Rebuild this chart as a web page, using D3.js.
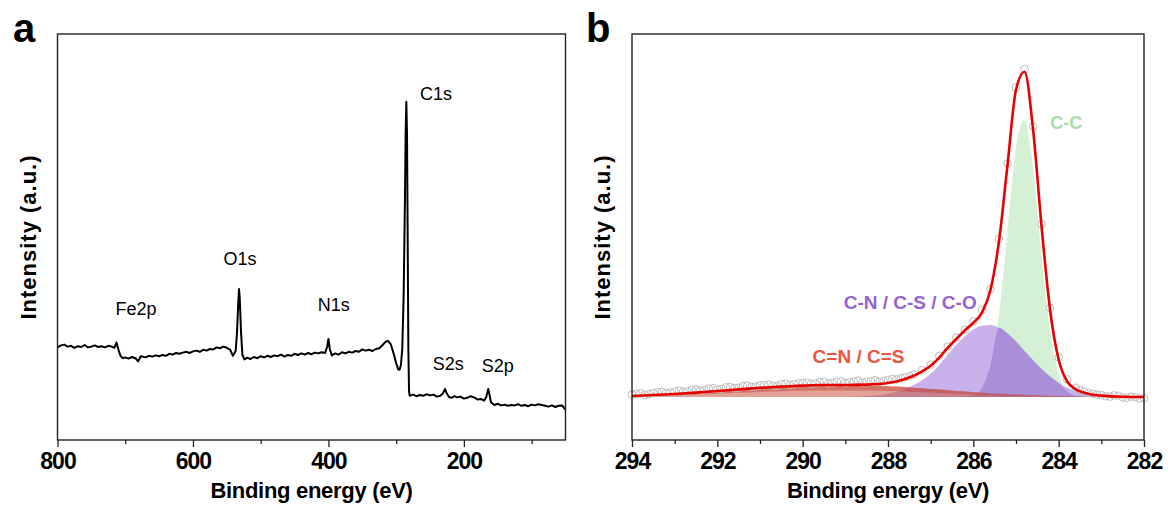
<!DOCTYPE html>
<html>
<head>
<meta charset="utf-8">
<title>XPS survey and C1s spectrum</title>
<style>
  body { margin: 0; background: #fff; }
  svg text { font-family: "Liberation Sans", Arial, sans-serif; }
</style>
</head>
<body>
<svg id="chart" width="1168" height="510"></svg>

<script src="https://cdn.jsdelivr.net/npm/d3@7/dist/d3.min.js"></script>
<script>
  // ---- panel a : survey scan, [binding energy (eV), intensity (a.u.)]
  const surveyScan = [
    [800, 22.4], [795, 22.9], [790, 23.1], [785, 22.6], [780, 22.8], [775, 22.3],
    [770, 22.7], [765, 22.5], [760, 23.0], [755, 22.4], [750, 22.6], [745, 22.9],
    [740, 22.5], [735, 22.7], [730, 22.4], [725, 22.8], [720, 22.6], [716, 22.3],
    [713, 23.6], [710, 21.8], [707, 20.3], [704, 19.7], [700, 19.9], [695, 19.6],
    [690, 20.0], [685, 19.7], [681, 18.9], [677, 20.2], [670, 19.9], [665, 20.3],
    [660, 20.1], [655, 20.4], [650, 20.2], [645, 20.5], [640, 20.3], [635, 20.8],
    [630, 20.6], [625, 21.0], [620, 20.8], [615, 21.1], [610, 21.3], [605, 21.0],
    [600, 21.4], [595, 21.6], [590, 21.3], [585, 21.8], [580, 21.6], [575, 22.0],
    [570, 21.9], [565, 22.4], [560, 22.2], [555, 22.6], [550, 22.3], [545, 21.8],
    [541, 20.3], [537, 21.5], [535, 26.0], [533, 34.0], [532, 37.0], [531, 35.0],
    [529, 26.0], [527, 20.5], [524, 19.4], [520, 19.8], [515, 19.5], [510, 20.0],
    [505, 19.7], [500, 20.2], [495, 19.9], [490, 20.3], [485, 20.0], [480, 20.4],
    [475, 20.2], [470, 20.6], [465, 20.1], [460, 20.5], [455, 20.3], [450, 20.8],
    [445, 20.5], [440, 20.9], [435, 20.6], [430, 21.0], [425, 20.7], [420, 21.1],
    [415, 20.9], [410, 21.2], [405, 21.0], [402, 22.5], [400, 24.5], [398, 22.0],
    [395, 20.4], [390, 20.9], [385, 20.6], [380, 21.2], [375, 20.9], [370, 21.3],
    [365, 21.1], [360, 21.5], [355, 21.3], [350, 21.9], [345, 21.6], [340, 21.8],
    [335, 21.5], [330, 22.0], [325, 22.2], [320, 23.0], [315, 23.9], [312, 24.0],
    [308, 23.2], [304, 21.0], [300, 18.5], [297, 16.9], [295, 16.8], [293, 18.0],
    [291, 22.0], [289, 35.0], [287, 60.0], [286, 76.0], [285, 83.8], [284, 76.0],
    [283, 50.0], [282, 22.0], [281, 11.5], [280, 10.3], [275, 10.6], [270, 10.2],
    [265, 10.5], [260, 10.3], [255, 10.7], [250, 10.4], [245, 10.6], [240, 10.1],
    [235, 10.3], [231, 10.9], [228, 12.0], [225, 10.8], [222, 10.0], [218, 9.8],
    [214, 10.2], [210, 9.9], [205, 10.1], [200, 9.6], [195, 9.8], [190, 10.2],
    [185, 9.9], [180, 9.4], [175, 9.5], [170, 9.1], [167, 10.0], [164, 12.0],
    [162, 10.4], [160, 8.7], [155, 8.0], [150, 8.3], [145, 7.9], [140, 8.1],
    [135, 7.8], [130, 8.0], [125, 7.9], [120, 8.2], [115, 7.8], [110, 8.0],
    [105, 7.7], [100, 8.1], [95, 7.9], [90, 8.2], [85, 8.0], [80, 7.8],
    [75, 7.6], [70, 7.9], [65, 7.5], [60, 7.8], [55, 7.9], [52, 7.2], [50, 6.8]
  ];
  const surveyLabels = ['Fe2p', 'O1s', 'N1s', 'C1s', 'S2s', 'S2p'];
  const surveyLabelAt = [[684, 30.5], [530.5, 43], [392, 31.5], [241, 84.25], [223, 16.75], [150, 16.25]];
  const surveyMajorTicks = [800, 600, 400, 200];
  const surveyMinorTicks = [700, 500, 300, 100];

  // ---- panel b : C1s high resolution, fitted components (above background)
  const hrEnergy = [294, 293.5, 293, 292.5, 292, 291.5, 291, 290.5, 290, 289.5, 289, 288.5, 288,
    287.8, 287.6, 287.4, 287.2, 287.0, 286.8, 286.6, 286.4, 286.2, 286.0, 285.8, 285.6, 285.4,
    285.2, 285.0, 284.8, 284.6, 284.4, 284.2, 284.0, 283.8, 283.6, 283.4, 283.2, 283.0, 282.5, 282];
  const fitCC = [0, 0, 0, 0, 0, 0, 0, 0, 0, 0, 0, 0, 0,
    0, 0, 0, 0, 0, 0, 0, 0, 0.07, 0.46, 2.2, 7.8, 20.7,
    41.3, 62.3, 69.3, 57.3, 35.2, 16.3, 5.6, 1.4, 0.27, 0.05, 0, 0, 0, 0];
  const fitCN = [0, 0, 0, 0, 0, 0, 0, 0, 0, 0, 0, 0.2, 0.8,
    1.3, 2.0, 3.0, 4.2, 5.8, 8.0, 10.6, 13.0, 15.2, 16.9, 17.8, 18.0, 17.3,
    15.9, 13.9, 11.5, 9.2, 7.0, 5.1, 3.5, 2.3, 1.5, 0.9, 0.5, 0.3, 0.05, 0];
  const fitCdN = [0.25, 0.5, 0.75, 1.1, 1.5, 1.9, 2.3, 2.6, 2.85, 3.0, 3.0, 2.9, 2.7,
    2.6, 2.5, 2.3, 2.2, 2.0, 1.85, 1.7, 1.5, 1.35, 1.2, 1.05, 0.9, 0.8,
    0.7, 0.6, 0.5, 0.42, 0.35, 0.28, 0.22, 0.17, 0.13, 0.1, 0.07, 0.05, 0.02, 0];
  const fitBackground = 10;
  const hrRaw = [
    [294.0, 10.6], [293.8, 10.9], [293.6, 10.7], [293.4, 11.2], [293.2, 11.0], [293.0, 11.4],
    [292.8, 11.3], [292.6, 11.8], [292.4, 11.6], [292.2, 12.1], [292.0, 11.9], [291.8, 12.4],
    [291.6, 12.2], [291.4, 12.7], [291.2, 12.5], [291.0, 12.9], [290.8, 13.1], [290.6, 12.8],
    [290.4, 13.3], [290.2, 13.2], [290.0, 13.5], [289.8, 13.3], [289.6, 13.7], [289.4, 13.4],
    [289.2, 13.8], [289.0, 13.5], [288.8, 13.9], [288.6, 13.6], [288.4, 14.0], [288.2, 13.8],
    [288.0, 14.3], [287.8, 14.4], [287.6, 14.9], [287.4, 15.6], [287.2, 16.7], [287.0, 18.1],
    [286.8, 20.3], [286.6, 22.6], [286.4, 24.9], [286.2, 26.8], [286.0, 28.9], [285.8, 31.8],
    [285.6, 37.0], [285.4, 49.5], [285.2, 68.4], [285.0, 87.4], [284.8, 92.0], [284.6, 77.6],
    [284.4, 53.2], [284.2, 32.3], [284.0, 19.9], [283.8, 14.4], [283.6, 12.3], [283.4, 11.4],
    [283.2, 10.8], [283.0, 10.5], [282.8, 10.1], [282.6, 10.3], [282.4, 9.8], [282.2, 10.0],
    [282.0, 9.7],
    [293.9, 10.8], [293.7, 10.5], [293.5, 11.0], [293.3, 11.3], [293.1, 11.1], [292.9, 11.6],
    [292.7, 11.4], [292.5, 11.9], [292.3, 11.7], [292.1, 12.2], [291.9, 12.0], [291.7, 12.5],
    [291.5, 12.3], [291.3, 12.8], [291.1, 12.6], [290.9, 13.0], [290.7, 12.8], [290.5, 13.2],
    [290.3, 13.0], [290.1, 13.4], [289.9, 13.6], [289.7, 13.4], [289.5, 13.8], [289.3, 13.5],
    [289.1, 13.9], [288.9, 13.7], [288.7, 14.1], [288.5, 13.8], [288.3, 14.2], [288.1, 14.0],
    [287.9, 14.5], [287.7, 14.7], [287.5, 15.2], [283.5, 11.7], [283.3, 11.0], [283.1, 10.6],
    [282.9, 10.2], [282.7, 10.4], [282.5, 9.9], [282.3, 10.1], [282.1, 9.6]
  ];
  const hrLabels = ['C-C', 'C-N / C-S / C-O', 'C=N / C=S'];
  const hrLabelAt = [[283.82, 77], [287.48, 32], [288.69, 18.5]];
  const hrMajorTicks = [294, 292, 290, 288, 286, 284, 282];
  const hrMinorTicks = [293, 291, 289, 287, 285, 283];

  const svg = d3.select('#chart');
  const plotTop = 34, plotBottom = 440;

  // shared intensity scale (arbitrary units, no ticks drawn)
  const y = d3.scaleLinear().domain([-0.75, 100.75]).range([plotBottom, plotTop]);

  function drawFrame(g, x, major, minor, letter, letterX) {
    const [x0, x1] = x.range();
    g.append('g')
      .attr('transform', `translate(0,${plotBottom})`)
      .call(d3.axisBottom(x).tickValues(minor).tickSize(4).tickFormat(''))
      .call(a => a.select('.domain').remove())
      .call(a => a.selectAll('line').attr('stroke', '#222').attr('stroke-width', 1.3));
    g.append('g')
      .attr('transform', `translate(0,${plotBottom})`)
      .call(d3.axisBottom(x).tickValues(major).tickSize(7).tickPadding(6))
      .call(a => a.select('.domain').remove())
      .call(a => a.selectAll('line').attr('stroke', '#222').attr('stroke-width', 1.3))
      .call(a => a.selectAll('text')
        .attr('fill', '#000')
        .style('font-size', '23px')
        .style('font-weight', 'bold')
        .style('letter-spacing', '-1px')
        .style('font-family', '"Liberation Sans", Arial, sans-serif'));

    g.append('rect')
      .attr('x', x0).attr('y', plotTop)
      .attr('width', x1 - x0).attr('height', plotBottom - plotTop)
      .attr('fill', 'none').attr('stroke', '#222').attr('stroke-width', 1.4);

    g.append('text')
      .attr('x', (x0 + x1) / 2).attr('y', 498)
      .attr('text-anchor', 'middle')
      .style('font-size', '22px').style('font-weight', 'bold')
      .style('letter-spacing', '-0.3px')
      .text('Binding energy (eV)');

    g.append('text')
      .attr('transform', `translate(${x0 - 22},${(plotTop + plotBottom) / 2}) rotate(-90)`)
      .attr('text-anchor', 'middle')
      .style('font-size', '22px').style('font-weight', 'bold')
      .style('letter-spacing', '1px')
      .text('Intensity (a.u.)');

    g.append('text')
      .attr('x', letterX).attr('y', 42)
      .style('font-size', '40px').style('font-weight', 'bold')
      .text(letter);
  }

  // ================= panel a =================
  const xa = d3.scaleLinear().domain([800, 50]).range([57.5, 565.5]);
  const ga = svg.append('g');

  ga.append('path')
    .datum(surveyScan)
    .attr('fill', 'none')
    .attr('stroke', '#000')
    .attr('stroke-width', 2)
    .attr('stroke-linejoin', 'round')
    .attr('d', d3.line().x(d => xa(d[0])).y(d => y(d[1])));

  ga.selectAll('.peak-label')
    .data(surveyLabels)
    .enter()
    .append('text')
    .attr('class', 'peak-label')
    .attr('x', (d, i) => xa(surveyLabelAt[i][0]))
    .attr('y', (d, i) => y(surveyLabelAt[i][1]))
    .attr('text-anchor', 'middle')
    .style('font-size', '18px')
    .text(d => d);

  drawFrame(ga, xa, surveyMajorTicks, surveyMinorTicks, 'a', 13);

  // ================= panel b =================
  const xb = d3.scaleLinear().domain([294, 282]).range([632, 1144]);
  const gb = svg.append('g');

  const rows = hrEnergy.map((e, i) => ({
    e: e, cc: fitCC[i], cn: fitCN[i], cdn: fitCdN[i],
    sum: fitBackground + fitCC[i] + fitCN[i] + fitCdN[i]
  }));

  const area = key => d3.area()
    .curve(d3.curveMonotoneX)
    .x(d => xb(d.e))
    .y0(y(fitBackground))
    .y1(d => y(fitBackground + key(d)));

  gb.append('path').datum(rows).attr('fill', '#d5f1d5').attr('d', area(d => d.cc));
  gb.append('path').datum(rows).attr('fill', '#c8b1ea').attr('d', area(d => d.cn));
  gb.append('path').datum(rows).attr('fill', '#a98fd7').attr('d', area(d => Math.min(d.cc, d.cn)));
  gb.append('path').datum(rows).attr('fill', 'rgba(200,85,65,0.55)').attr('d', area(d => d.cdn));

  // darker band just under the top of the C=N / C=S component
  gb.append('path')
    .datum(rows)
    .attr('fill', 'rgba(195,60,45,0.45)')
    .attr('d', d3.area().curve(d3.curveMonotoneX)
      .x(d => xb(d.e))
      .y0(d => y(fitBackground + d.cdn * 0.55))
      .y1(d => y(fitBackground + d.cdn)));

  gb.selectAll('.raw')
    .data(hrRaw)
    .enter()
    .append('circle')
    .attr('class', 'raw')
    .attr('cx', d => xb(d[0]))
    .attr('cy', d => y(d[1]))
    .attr('r', 3.8)
    .attr('fill', 'none')
    .attr('stroke', '#bdbdbd')
    .attr('stroke-width', 1);

  gb.append('path')
    .datum(rows)
    .attr('fill', 'none')
    .attr('stroke', '#e80000')
    .attr('stroke-width', 2.6)
    .attr('d', d3.line().curve(d3.curveMonotoneX).x(d => xb(d.e)).y(d => y(d.sum)));

  const hrLabelColor = ['#a6dca6', '#9563d2', '#ef5440'];
  gb.selectAll('.comp-label')
    .data(hrLabels)
    .enter()
    .append('text')
    .attr('class', 'comp-label')
    .attr('x', (d, i) => xb(hrLabelAt[i][0]))
    .attr('y', (d, i) => y(hrLabelAt[i][1]))
    .attr('text-anchor', 'middle')
    .attr('fill', (d, i) => hrLabelColor[i])
    .style('font-size', (d, i) => i === 0 ? '18px' : '19px')
    .style('font-weight', 'bold')
    .text(d => d);

  drawFrame(gb, xb, hrMajorTicks, hrMinorTicks, 'b', 586);
</script>
</body>
</html>
